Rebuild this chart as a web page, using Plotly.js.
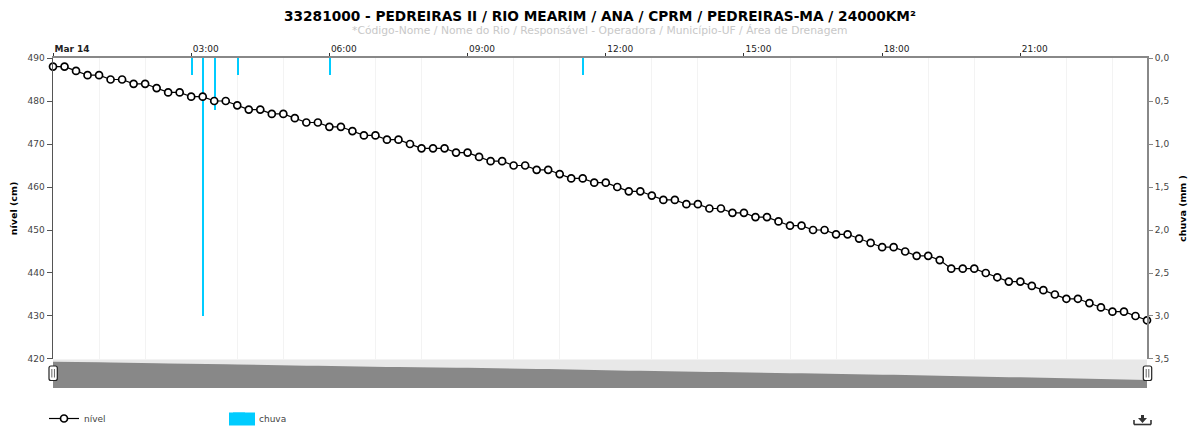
<!DOCTYPE html>
<html>
<head>
<meta charset="utf-8">
<script src="https://cdn.plot.ly/plotly-3.0.1.min.js"></script>
<style>html,body{margin:0;padding:0;background:#fff}#c{width:1194px;height:428px}</style>
</head>
<body>
<div id="c"></div>
<script>
var DAY = "2019-03-14 ";
var times = [
"00:00","00:15","00:30","00:45","01:00","01:15","01:30","01:45","02:00","02:15","02:30","02:45",
"03:00","03:15","03:30","03:45","04:00","04:15","04:30","04:45","05:00","05:15","05:30","05:45",
"06:00","06:15","06:30","06:45","07:00","07:15","07:30","07:45","08:00","08:15","08:30","08:45",
"09:00","09:15","09:30","09:45","10:00","10:15","10:30","10:45","11:00","11:15","11:30","11:45",
"12:00","12:15","12:30","12:45","13:00","13:15","13:30","13:45","14:00","14:15","14:30","14:45",
"15:00","15:15","15:30","15:45","16:00","16:15","16:30","16:45","17:00","17:15","17:30","17:45",
"18:00","18:15","18:30","18:45","19:00","19:15","19:30","19:45","20:00","20:15","20:30","20:45",
"21:00","21:15","21:30","21:45","22:00","22:15","22:30","22:45","23:00","23:15","23:30","23:45"];
var nivel = [
488,488,487,486,486,485,485,484,484,483,482,482,
481,481,480,480,479,478,478,477,477,476,475,475,
474,474,473,472,472,471,471,470,469,469,469,468,
468,467,466,466,465,465,464,464,463,462,462,461,
461,460,459,459,458,457,457,456,456,455,455,454,
454,453,453,452,451,451,450,450,449,449,448,447,
446,446,445,444,444,443,441,441,441,440,439,438,
438,437,436,435,434,434,433,432,431,431,430,429];
var chuvaTimes = ["03:00","03:15","03:30","04:00","06:00","11:30"];
var chuva = [0.2,3.0,0.6,0.2,0.2,0.2];
var tickTimes = ["00:00","03:00","06:00","09:00","12:00","15:00","18:00","21:00"];
var tickLabels = ["<b>Mar 14</b>","03:00","06:00","09:00","12:00","15:00","18:00","21:00"];
var gridTimes = ["01:00","02:00","04:00","05:00","07:00","08:00","10:00","11:00","13:00","14:00","16:00","17:00","19:00","20:00","22:00","23:00"];
var titleText = "33281000 - PEDREIRAS II / RIO MEARIM / ANA / CPRM / PEDREIRAS-MA / 24000KM²";
var subtitleText = "*Código-Nome / Nome do Rio / Responsável - Operadora / Município-UF / Área de Drenagem";

function t(a){return a.map(function(s){return DAY+s;});}
var W=1194,H=428,L=53,R=47,T=58,B=40;
function px(x){return (x-L)/(W-L-R);}
function py(y){return 1-(y-T)/(H-T-B);}
function seg(x0,y0,x1,y1,c,w){return {type:"line",xref:"paper",yref:"paper",x0:px(x0),x1:px(x1),y0:py(y0),y1:py(y1),line:{color:c,width:w},layer:"above"};}
function handle(x0,x1){
  var y0=366,y1=380.5,r=2,p=function(x,y){return px(x)+","+py(y);};
  return [
   {type:"path",xref:"paper",yref:"paper",layer:"above",fillcolor:"#fff",line:{color:"#222",width:1.2},
    path:"M"+p(x0+r,y0)+" L"+p(x1-r,y0)+" Q"+p(x1,y0)+" "+p(x1,y0+r)+" L"+p(x1,y1-r)+" Q"+p(x1,y1)+" "+p(x1-r,y1)+" L"+p(x0+r,y1)+" Q"+p(x0,y1)+" "+p(x0,y1-r)+" L"+p(x0,y0+r)+" Q"+p(x0,y0)+" "+p(x0+r,y0)+" Z"},
   seg((x0+x1)/2-1.3,369,(x0+x1)/2-1.3,377.5,"#666",1),
   seg((x0+x1)/2+1.3,369,(x0+x1)/2+1.3,377.5,"#666",1)];
}
function p2(x,y){return px(x)+","+py(y);}
var font="'DejaVu Sans', Verdana, sans-serif";
var xRange=[DAY+"00:00",DAY+"23:45"];

var traces=[
 {type:"bar",name:"chuva",x:t(chuvaTimes),y:chuva,xaxis:"x",yaxis:"y",width:160000,offset:-25000,
  marker:{color:"#00ccff",line:{width:0}},showlegend:true},
 {type:"scatter",mode:"lines+markers",name:"nível",x:t(times),y:nivel,xaxis:"x",yaxis:"y2",cliponaxis:false,
  line:{color:"#000",width:1.2},marker:{symbol:"circle",size:7,color:"#fff",line:{color:"#000",width:1.7}}},
 {type:"scatter",mode:"lines",name:"navegador",x:t(times),y:nivel,xaxis:"x2",yaxis:"y3",fill:"tozeroy",
  fillcolor:"#888888",line:{color:"#888888",width:0},showlegend:false,hoverinfo:"skip"}
];
var layout={
 width:W,height:H,paper_bgcolor:"#fff",plot_bgcolor:"#fff",separators:",.",
 margin:{l:L,r:R,t:T,b:B,pad:0,autoexpand:false},
 font:{family:font,size:9,color:"#444"},
 title:{text:"<b>"+titleText+"</b>",font:{family:font,size:13.7,color:"#000"},xref:"paper",x:0.5,xanchor:"center",yref:"container",y:0.985,yanchor:"top",pad:{t:5}},
 bargap:0,barmode:"overlay",
 xaxis:{type:"date",range:xRange,side:"top",anchor:"y",domain:[0,1],tickmode:"array",tickvals:t(tickTimes),ticktext:tickLabels,
        ticks:"outside",ticklen:3,tickwidth:1,tickcolor:"#333",ticklabelposition:"outside right",ticklabelstandoff:0,tickfont:{family:font,size:9,color:"#222"},
        showline:true,linecolor:"#888",linewidth:2,showgrid:false,zeroline:false,
        minor:{tickmode:"array",tickvals:t(gridTimes),showgrid:true,gridcolor:"#f3f3f3",gridwidth:1,ticks:""}},
 xaxis2:{type:"date",range:xRange,anchor:"y3",domain:[0,1],visible:false},
 yaxis:{domain:[0.0879,1],range:[3.5,0],side:"right",anchor:"x",tickmode:"array",tickvals:[0,0.5,1,1.5,2,2.5,3,3.5],tickformat:".1f",
        ticks:"outside",ticklen:4,tickcolor:"#888",showline:true,linecolor:"#888",linewidth:2,showgrid:false,zeroline:false,
        tickfont:{family:font,size:9,color:"#444"},
        title:{text:"<b>chuva (mm )</b>",font:{family:font,size:9.5,color:"#000"},standoff:11}},
 yaxis2:{domain:[0.0879,1],range:[420,490],side:"left",anchor:"x",overlaying:"y",dtick:10,
        ticks:"outside",ticklen:5,tickcolor:"#555",showline:true,linecolor:"#555",linewidth:1.5,showgrid:false,zeroline:false,
        tickfont:{family:font,size:9,color:"#444"},
        title:{text:"<b>nível (cm)</b>",font:{family:font,size:9.5,color:"#000"},standoff:8}},
 yaxis3:{domain:[0,0.0864],range:[403,495],anchor:"x2",visible:false},
 legend:{orientation:"h",xref:"paper",yref:"paper",x:px(44),y:py(404),xanchor:"left",yanchor:"top",traceorder:"reversed",
         entrywidth:130,entrywidthmode:"pixels",itemwidth:30,itemclick:false,tracegroupgap:0,
         font:{family:font,size:9,color:"#444"},bgcolor:"rgba(0,0,0,0)"},
 annotations:[{text:subtitleText,xref:"paper",yref:"paper",x:0.5,y:py(30.5),xanchor:"center",yanchor:"middle",showarrow:false,
               font:{family:font,size:10.75,color:"#c8c8c8"}}],
 shapes:[
  {type:"rect",xref:"paper",yref:"paper",x0:0,x1:1,y0:0,y1:py(359.5),fillcolor:"#e8e8e8",line:{width:0},layer:"below"},
  {type:"rect",xref:"paper",yref:"paper",x0:px(229),x1:px(255),y0:py(425.5),y1:py(412.5),fillcolor:"#00ccff",line:{width:0},layer:"above"},
  seg(1134,420,1134,424.5,"#333",1.6),seg(1134,424.5,1151,424.5,"#333",1.6),seg(1151,424.5,1151,420,"#333",1.6),
  {type:"path",xref:"paper",yref:"paper",layer:"above",fillcolor:"#333",line:{width:0},
   path:"M"+p2(1141,415)+" L"+p2(1144,415)+" L"+p2(1144,418)+" L"+p2(1147,418)+" L"+p2(1142.5,423)+" L"+p2(1138,418)+" L"+p2(1141,418)+" Z"}
 ].concat(handle(49,57.3)).concat(handle(1143.3,1151.7))
};
Plotly.newPlot("c",traces,layout,{displayModeBar:false,staticPlot:true});
</script>
</body>
</html>
